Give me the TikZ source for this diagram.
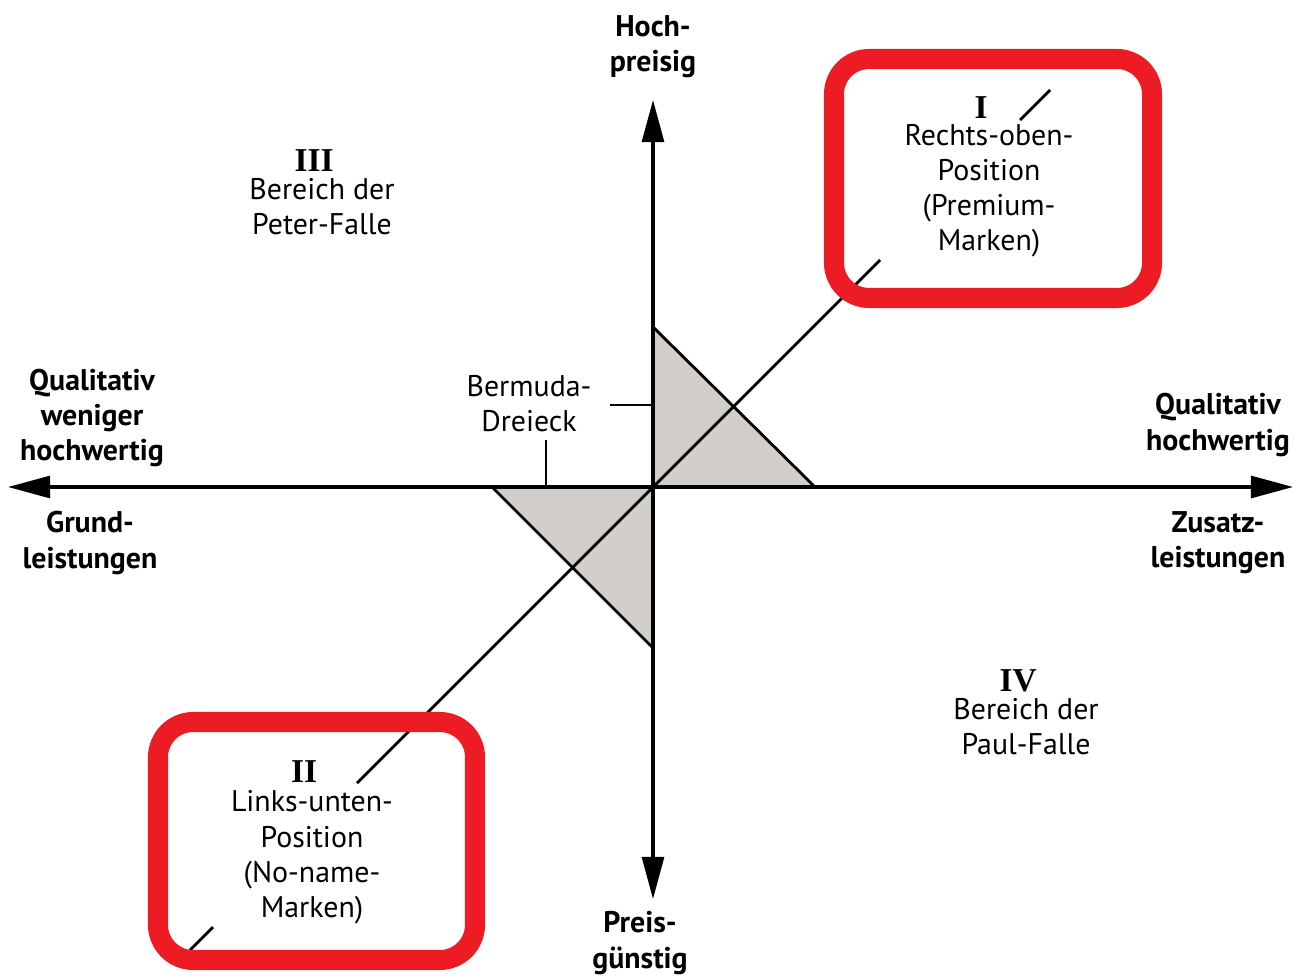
\documentclass[tikz,border=0pt]{standalone}
\usepackage{fontspec}
\setmainfont{PT Sans}
\newfontfamily\romfont{Liberation Serif}
\usepackage{xcolor}
\definecolor{Col1}{RGB}{237,28,36}
\definecolor{Col2}{RGB}{209,206,201}
\usepackage{tikz}
\usetikzlibrary{arrows.meta}
\tikzstyle{Axis}=[draw=black,line width=1.8pt,
{Triangle[length=24pt,width=12.5pt]}-{Triangle[length=24pt,width=12.5pt]}]
\tikzstyle{Edge}=[draw=black,line width=1.6pt]
\tikzstyle{Zone}=[fill=Col2,draw=black,line width=1.6pt,line join=miter]
\tikzstyle{Frame}=[draw=Col1,line width=11.4pt,rounded corners=20pt]
\tikzstyle{Label}=[align=center,inner sep=0pt,text=black,
font=\fontsize{17}{20}\selectfont]
\tikzstyle{LabelB}=[Label,font=\fontsize{17}{20}\selectfont\bfseries]
\newcommand{\QuadNum}[1]{{\romfont\bfseries\fontsize{19}{20}\selectfont #1}\hspace*{9pt}}

\begin{document}
\begin{tikzpicture}[x=.02cm,y=-.02cm]
        \useasboundingbox(0,0)rectangle(1304,976);
        \coordinate(O)at(653,487);
        % Bermuda-Dreieck
        \draw[Zone](O)--(653,327)--(815,487)--cycle;
        \draw[Zone](O)--(492,487)--(653,648)--cycle;
        % axes
        \coordinate(W)at(8,487);
        \coordinate(E)at(1293,487);
        \coordinate(N)at(653,100);
        \coordinate(S)at(653,899);
        \draw[Axis](W)--(E);
        \draw[Axis](N)--(S);
        % diagonal
        \coordinate(d1)at(190,950);
        \coordinate(d2)at(213,927);
        \coordinate(d3)at(357,783);
        \coordinate(d4)at(880,260);
        \coordinate(d5)at(1020,120);
        \coordinate(d6)at(1050,90);
        \draw[Edge](d1)--(d2);
        \draw[Edge](d3)--(d4);
        \draw[Edge](d5)--(d6);
        % frames
        \draw[Frame](834,59)rectangle(1152,298);
        \draw[Frame](158,722)rectangle(475,960);
        % labels
        \node[LabelB](hoch)at(653,47){Hoch-\\preisig};
        \node[LabelB](preis)at(640,943){Preis-\\günstig};
        \node[LabelB](qlinks)at(92,418){Qualitativ\\weniger\\hochwertig};
        \node[LabelB](grund)at(90,543){Grund-\\leistungen};
        \node[LabelB](qrechts)at(1218,425){Qualitativ\\hochwertig};
        \node[LabelB](zusatz)at(1218,543){Zusatz-\\leistungen};
        \node[Label](I)at(989,177)
                {\QuadNum{I}\\[-5pt]Rechts-oben-\\Position\\(Premium-\\Marken)};
        \node[Label](II)at(312,842)
                {\QuadNum{II}\\[-3pt]Links-unten-\\Position\\(No-name-\\Marken)};
        \node[Label](III)at(322,192)
                {\QuadNum{III}\\[-4pt]Bereich der\\Peter-Falle};
        \node[Label](IV)at(1026,712)
                {\QuadNum{IV}\\[-4pt]Bereich der\\Paul-Falle};
        \node[Label](bermuda)at(529,404){Bermuda-\\Dreieck};
        \coordinate(b1)at(610,405);
        \coordinate(b2)at(546,440);
        \draw[Edge](b1)--(b1-|O);
        \draw[Edge](b2)--(b2|-O);
    \end{tikzpicture}
\end{document}
